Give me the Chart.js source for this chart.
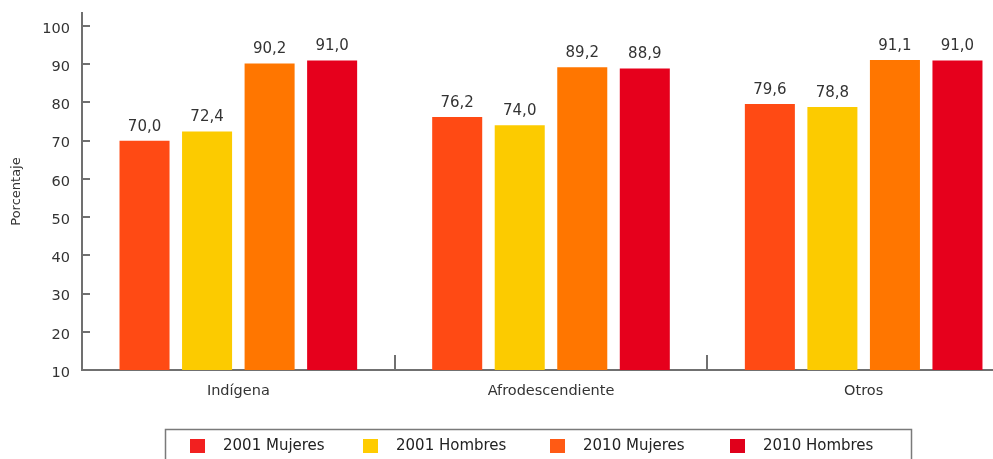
<!DOCTYPE html>
<html>
<head>
<meta charset="utf-8">
<script src="https://cdn.jsdelivr.net/npm/chart.js@4/dist/chart.umd.min.js"></script>
<style>
  html, body { margin: 0; padding: 0; background: #fff; overflow: hidden; }
  #wrap { width: 1025px; height: 459px; }
</style>
</head>
<body>
<div id="wrap"><canvas id="c" width="1025" height="459"></canvas></div>
<script>
const categories = ['Indígena', 'Afrodescendiente', 'Otros'];
const seriesNames = ['2001 Mujeres', '2001 Hombres', '2010 Mujeres', '2010 Hombres'];
const mujeres2001 = [70.0, 76.2, 79.6];
const hombres2001 = [72.4, 74.0, 78.8];
const mujeres2010 = [90.2, 89.2, 91.1];
const hombres2010 = [91.0, 88.9, 91.0];
const yTicks = [10, 20, 30, 40, 50, 60, 70, 80, 90, 100];

const barColors = ['#FF4A14', '#FCCB00', '#FF7600', '#E6001C'];
const legendColors = ['#F22020', '#FFCC00', '#FF5A14', '#E0001B'];
const FONT = '"DejaVu Sans", sans-serif';
const TEXT = '#333333';
const AXIS = '#707070';

const seriesValues = [mujeres2001, hombres2001, mujeres2010, hombres2010];

const extras = {
  id: 'extras',
  afterDraw(chart) {
    const ctx = chart.ctx;
    const ca = chart.chartArea;
    const y = chart.scales.y, x = chart.scales.x;
    ctx.save();
    // inward y tick marks
    ctx.strokeStyle = AXIS;
    ctx.lineWidth = 2;
    yTicks.forEach(v => {
      const py = Math.round(y.getPixelForValue(v));
      ctx.beginPath();
      ctx.moveTo(ca.left, py);
      ctx.lineTo(ca.left + 8, py);
      ctx.stroke();
    });
    // category separators
    for (let i = 0; i < categories.length - 1; i++) {
      const px = Math.round((x.getPixelForValue(i) + x.getPixelForValue(i + 1)) / 2);
      ctx.beginPath();
      ctx.moveTo(px, ca.bottom);
      ctx.lineTo(px, ca.bottom - 15);
      ctx.stroke();
    }
    // value labels
    ctx.fillStyle = TEXT;
    ctx.font = '15px ' + FONT;
    ctx.textAlign = 'center';
    ctx.textBaseline = 'alphabetic';
    chart.data.datasets.forEach((ds, di) => {
      const meta = chart.getDatasetMeta(di);
      meta.data.forEach((el, i) => {
        const txt = ds.data[i].toFixed(1).replace('.', ',');
        ctx.fillText(txt, el.x, el.y - 10);
      });
    });
    // legend box
    ctx.strokeStyle = '#7a7a7a';
    ctx.lineWidth = 1.5;
    ctx.strokeRect(165.5, 429.5, 746, 50);
    const lx = [190, 363, 550, 730];
    ctx.font = '15px ' + FONT;
    ctx.textAlign = 'left';
    ctx.textBaseline = 'middle';
    seriesNames.forEach((n, i) => {
      ctx.fillStyle = legendColors[i];
      ctx.fillRect(lx[i], 439, 15, 14);
      ctx.fillStyle = '#222';
      ctx.fillText(n, lx[i] + 33, 446.5);
    });
    ctx.restore();
  }
};

new Chart(document.getElementById('c'), {
  type: 'bar',
  data: {
    labels: categories,
    datasets: seriesNames.map((n, i) => ({
      label: n,
      data: seriesValues[i],
      backgroundColor: barColors[i],
      borderWidth: 0,
      categoryPercentage: 0.8,
      barPercentage: 0.8
    }))
  },
  options: {
    responsive: false,
    animation: false,
    layout: { padding: { top: 13, right: 5, left: 0, bottom: 0 } },
    plugins: { legend: { display: false }, tooltip: { enabled: false } },
    scales: {
      x: {
        type: 'category',
        offset: true,
        grid: { display: false, drawTicks: false },
        border: { display: true, color: AXIS, width: 2 },
        ticks: { font: { family: FONT, size: 14.5 }, color: TEXT, padding: 13 },
        afterFit(s) { s.height = 89; s.paddingLeft = 0; s.paddingRight = 0; }
      },
      y: {
        min: 10,
        max: 103.4,
        grid: { display: false, drawTicks: false },
        border: { display: true, color: AXIS, width: 2 },
        ticks: { font: { family: FONT, size: 14.5 }, color: TEXT, padding: 12, labelOffset: 3 },
        afterBuildTicks(s) { s.ticks = yTicks.map(v => ({ value: v })); },
        title: { display: true, text: 'Porcentaje', font: { family: FONT, size: 13 }, color: TEXT, padding: { top: 9, bottom: 0 } },
        afterFit(s) { s.width = 82; s.paddingTop = 0; s.paddingBottom = 0; }
      }
    }
  },
  plugins: [extras]
});
</script>
</body>
</html>
